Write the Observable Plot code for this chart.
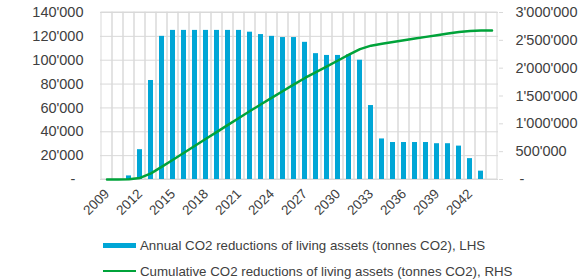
<!DOCTYPE html>
<html>
<head>
<meta charset="utf-8">
<script src="https://cdn.jsdelivr.net/npm/d3@7"></script>
<script src="https://cdn.jsdelivr.net/npm/@observablehq/plot@0.6"></script>
<style>
  html, body { margin: 0; padding: 0; background: #fff; }
  #wrap { position: relative; width: 580px; height: 279px; font-family: "Liberation Sans", Arial, sans-serif; color: #404040; }
  #legend { position: absolute; left: 103px; top: 232px; font-size: 13.3px; }
  .row { display: flex; align-items: center; height: 26px; }
  .sw { width: 33px; margin-right: 4px; }
</style>
</head>
<body>
<div id="wrap">
  <div id="chart"></div>
  <div id="legend">
    <div class="row"><span class="sw" style="height:5px;background:#00a6d6"></span><span>Annual CO2 reductions of living assets (tonnes CO2), LHS</span></div>
    <div class="row"><span class="sw" style="height:2.5px;background:#00a33a"></span><span>Cumulative CO2 reductions of living assets (tonnes CO2), RHS</span></div>
  </div>
</div>
<script>
const years = [2009,2010,2011,2012,2013,2014,2015,2016,2017,2018,2019,2020,2021,2022,2023,2024,2025,2026,2027,2028,2029,2030,2031,2032,2033,2034,2035,2036,2037,2038,2039,2040,2041,2042,2043,2044];
const annual = [0,0,3000,25000,83000,120000,125000,125000,125000,125000,125000,125000,125000,123500,121500,120000,119000,119000,115000,105500,104000,104000,104500,100000,62000,34000,31000,31000,31000,31000,30000,30000,28000,17500,7000,0];
const cumulative = [0,0,3000,28000,111000,231000,356000,481000,606000,731000,856000,981000,1106000,1229500,1351000,1471000,1590000,1709000,1824000,1929500,2033500,2137500,2242000,2342000,2404000,2438000,2469000,2500000,2531000,2562000,2592000,2622000,2650000,2667500,2674500,2674500];
const leftTicks = [0,20000,40000,60000,80000,100000,120000,140000];
const rightTicks = [0,500000,1000000,1500000,2000000,2500000,3000000];
const xTickYears = [2009,2012,2015,2018,2021,2024,2027,2030,2033,2036,2039,2042];

const annualData = years.map((y, i) => ({year: y, value: annual[i]}));
const cumData = years.map((y, i) => ({year: y, value: cumulative[i]}));

const leftMax = 140000, rightMax = 3000000;
const k = leftMax / rightMax;
const fmt = v => d3.format(",")(v).replace(/,/g, "'");

const grid = "#d9d9d9";
const chart = Plot.plot({
  width: 580,
  height: 230,
  marginLeft: 100,
  marginRight: 82,
  marginTop: 12,
  marginBottom: 51,
  style: {fontFamily: '"Liberation Sans", Arial, sans-serif', fontSize: "14px", color: "#404040", background: "#fff"},
  x: {type: "band", domain: years, padding: 0, axis: null},
  y: {domain: [0, leftMax], axis: null},
  marks: [
    Plot.barY(years, {x: d => d, y1: 0, y2: leftMax, fill: "none", stroke: grid, strokeWidth: 1}),
    Plot.ruleY(leftTicks, {stroke: grid}),
    Plot.barY(annualData, {x: "year", y: "value", fill: "#00a6d6", insetLeft: 3, insetRight: 3}),
    Plot.line(cumData, {x: "year", y: d => d.value * k, stroke: "#00a33a", strokeWidth: 2.5, curve: "linear"}),
    Plot.axisY({anchor: "left", label: null, ticks: leftTicks, tickFormat: v => v === 0 ? "-\u00a0\u00a0" : fmt(v), tickSize: 0, tickPadding: 17, fontSize: 14.5}),
    Plot.axisY({anchor: "right", label: null, ticks: rightTicks.map(v => v * k), tickFormat: v => { const r = Math.round(v / k); return r === 0 ? "\u00a0-" : fmt(r); }, tickSize: 4, stroke: grid, tickPadding: 13, fontSize: 14.5}),
    Plot.axisX({label: null, ticks: xTickYears, tickFormat: d => String(d), tickRotate: -45, tickSize: 0, tickPadding: 12, fontSize: 13.5})
  ]
});
document.getElementById("chart").appendChild(chart);
</script>
</body>
</html>
